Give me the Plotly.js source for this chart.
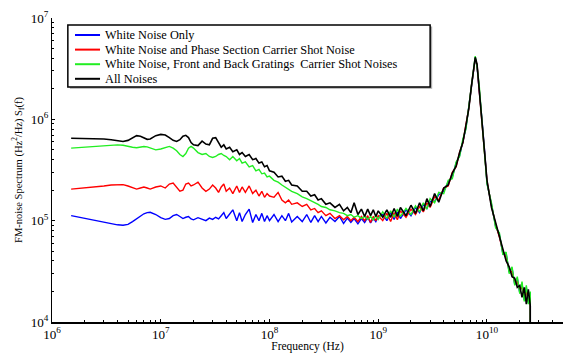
<!DOCTYPE html>
<html>
<head>
<meta charset="utf-8">
<script src="https://cdn.plot.ly/plotly-3.0.1.min.js"></script>
<style>html,body{margin:0;padding:0;background:#fff}#chart{width:571px;height:353px}</style>
</head>
<body>
<div id="chart"></div>
<script>
// Frequency grid (Hz), by region
const freqLow  = [1.5e6,2e6,2.5e6,3e6,3.5e6,4e6,4.5e6,5e6,5.5e6,6e6,6.5e6,7e6,7.5e6,8e6,9e6,1e7];
const freqMid  = [1.1e7,1.2e7,1.3e7,1.4e7,1.5e7,1.6e7,1.7e7,1.8e7,1.9e7,2e7,
                  2.2e7,2.4e7,2.6e7,2.8e7,3e7,3.2e7,3.4e7,3.6e7,3.8e7,4e7,
                  4.3e7,4.6e7,5e7,5.3e7,5.6e7,
                  6e7,6.5e7,7e7,7.5e7,8e7,8.5e7,9e7,9.5e7,1e8];
const freqHigh = [1.1e8,1.2e8,1.3e8,1.4e8,1.5e8,1.6e8,
                  1.8e8,2e8,2.2e8,2.4e8,2.6e8,2.8e8,3e8,
                  3.3e8,3.6e8,
                  4e8,4.4e8,4.8e8,5.2e8,5.6e8,
                  6e8,6.5e8,7e8,7.5e8,8e8,8.5e8,9e8,9.5e8,1e9];
const freqTail = [1.1e9,1.2e9,1.3e9,1.4e9,1.5e9,1.6e9,
                  1.8e9,2e9,2.2e9,2.4e9,2.6e9,2.8e9,3e9,
                  3.3e9,3.6e9,
                  4e9,4.4e9,4.8e9,5.2e9,5.6e9,
                  6e9,6.4e9,6.8e9,7.2e9,7.5e9,7.8e9,8.1e9,8.5e9,9e9,9.5e9,
                  1e10,1.1e10,1.2e10,1.3e10,1.4e10,1.5e10,1.6e10,1.7e10,1.8e10,1.9e10,2e10,2.1e10,2.2e10,2.3e10,2.4e10,2.5e10,
                  2.5e10];

// White Noise Only (blue)
const blueLow  = [1.12e5,1.05e5,1.0e5,9.6e4,9.3e4,9.1e4,9.0e4,9.2e4,9.8e4,1.05e5,1.12e5,1.17e5,1.2e5,1.21e5,1.15e5,1.07e5];
const blueMid  = [1.03e5,1.05e5,1.12e5,1.15e5,1.1e5,1.05e5,1.08e5,1.1e5,1.04e5,1.02e5,
                  1.07e5,1.03e5,1.0e5,1.06e5,1.03e5,1.08e5,1.04e5,1.12e5,1.2e5,1.05e5,
                  1.15e5,1.28e5,1.0e5,1.2e5,9.8e4,
                  1.15e5,1.3e5,9.6e4,1.15e5,1.0e5,1.18e5,9.8e4,1.12e5,1.0e5];
const blueHigh = [1.15e5,9.8e4,1.12e5,1.0e5,1.18e5,9.7e4,
                  1.1e5,9.8e4,1.15e5,9.6e4,1.12e5,9.8e4,1.1e5,
                  9.5e4,1.08e5,
                  9.8e4,1.1e5,9.4e4,1.06e5,9.6e4,
                  1.05e5,9.3e4,1.05e5,9.6e4,1.08e5,9.5e4,1.06e5,9.8e4,1.1e5];
const blueTail = [1.15e5,1.0e5,1.2e5,1.03e5,1.22e5,1.05e5,
                  1.28e5,1.12e5,1.35e5,1.2e5,1.45e5,1.32e5,1.55e5,
                  1.55e5,1.8e5,
                  1.95e5,2.4e5,2.7e5,3.7e5,4.4e5,
                  6.2e5,8.2e5,1.32e6,2.05e6,3.1e6,4.05e6,3.35e6,2.05e6,9.8e5,4.9e5,
                  2.35e5,1.45e5,8.8e4,7.3e4,4.7e4,4.7e4,3.1e4,3.4e4,2.35e4,2.7e4,1.95e4,2.4e4,1.65e4,2.2e4,1.55e4,1.95e4,
                  1e4];

// White Noise and Phase Section Carrier Shot Noise (red)
const redLow  = [2.05e5,2.1e5,2.15e5,2.2e5,2.25e5,2.27e5,2.27e5,2.2e5,2.1e5,2.05e5,2.1e5,2.15e5,2.1e5,2.05e5,2.15e5,2.2e5];
const redMid  = [2.1e5,2.3e5,2.35e5,2.15e5,1.95e5,2.0e5,2.3e5,2.35e5,2.2e5,2.25e5,
                 2.4e5,2.1e5,1.95e5,2.05e5,2.25e5,2.1e5,1.9e5,2.15e5,2.3e5,1.95e5,
                 2.1e5,1.85e5,2.2e5,1.9e5,2.15e5,
                 1.9e5,2.2e5,1.85e5,2.0e5,1.75e5,1.95e5,1.7e5,1.85e5,1.75e5];
const redHigh = [1.7e5,1.9e5,1.6e5,1.5e5,1.6e5,1.45e5,
                 1.5e5,1.38e5,1.45e5,1.28e5,1.32e5,1.2e5,1.25e5,
                 1.12e5,1.18e5,
                 1.05e5,1.12e5,1.02e5,1.1e5,1.0e5,
                 1.08e5,9.8e4,1.1e5,1.0e5,1.12e5,9.6e4,1.1e5,1.0e5,1.12e5];
const redTail = [1.0e5,1.18e5,9.8e4,1.2e5,1.02e5,1.25e5,
                 1.08e5,1.3e5,1.15e5,1.38e5,1.22e5,1.5e5,1.35e5,
                 1.72e5,1.6e5,
                 2.1e5,2.2e5,3.0e5,3.4e5,4.7e5,
                 5.9e5,8.6e5,1.28e6,2.15e6,3.0e6,4.0e6,3.45e6,1.95e6,1.02e6,4.7e5,
                 2.45e5,1.4e5,9.2e4,6.9e4,5.0e4,4.3e4,3.3e4,3.1e4,2.5e4,2.5e4,2.1e4,2.2e4,1.8e4,2.0e4,1.6e4,1.8e4,
                 1e4];

// White Noise, Front and Back Gratings Carrier Shot Noises (green)
const greenLow  = [5.2e5,5.3e5,5.4e5,5.5e5,5.55e5,5.6e5,5.55e5,5.4e5,5.3e5,5.25e5,5.3e5,5.4e5,5.35e5,5.2e5,5.0e5,5.1e5];
const greenMid  = [5.3e5,5.4e5,5.2e5,4.9e5,4.5e5,4.3e5,4.6e5,5.2e5,5.4e5,5.2e5,
                   4.7e5,4.5e5,4.6e5,4.3e5,4.2e5,4.3e5,4.5e5,4.6e5,4.4e5,4.3e5,
                   4.0e5,4.3e5,3.9e5,4.1e5,3.7e5,
                   3.8e5,3.4e5,3.5e5,3.1e5,3.2e5,2.9e5,2.95e5,2.7e5,2.75e5];
const greenHigh = [2.5e5,2.4e5,2.25e5,2.15e5,2.05e5,1.95e5,
                   1.85e5,1.72e5,1.65e5,1.58e5,1.5e5,1.45e5,1.38e5,
                   1.35e5,1.28e5,
                   1.25e5,1.2e5,1.18e5,1.12e5,1.15e5,
                   1.08e5,1.12e5,1.05e5,1.1e5,1.03e5,1.1e5,1.02e5,1.12e5,1.03e5];
const greenTail = [1.22e5,1.05e5,1.25e5,1.08e5,1.3e5,1.1e5,
                   1.32e5,1.15e5,1.4e5,1.22e5,1.5e5,1.3e5,1.65e5,
                   1.5e5,1.9e5,
                   1.85e5,2.5e5,2.6e5,3.8e5,4.3e5,
                   6.4e5,8.0e5,1.35e6,2.0e6,3.2e6,4.2e6,3.3e6,2.1e6,9.5e5,5.0e5,
                   2.3e5,1.5e5,8.5e4,7.6e4,4.6e4,4.9e4,3.0e4,3.5e4,2.3e4,2.8e4,1.9e4,2.5e4,1.6e4,2.3e4,1.5e4,2.0e4,
                   1e4];

// All Noises (black)
const blackLow  = [6.5e5,6.5e5,6.45e5,6.4e5,6.3e5,6.15e5,6.05e5,6.2e5,6.6e5,6.9e5,6.8e5,6.5e5,6.35e5,6.4e5,6.9e5,7.1e5];
const blackMid  = [7.0e5,6.6e5,6.2e5,6.05e5,6.3e5,6.8e5,6.95e5,6.6e5,5.9e5,5.6e5,
                   5.5e5,6.1e5,5.7e5,5.6e5,6.5e5,6.6e5,5.8e5,5.3e5,5.6e5,5.1e5,
                   5.3e5,4.8e5,5.0e5,4.5e5,4.7e5,
                   4.3e5,4.5e5,4.0e5,4.1e5,3.7e5,3.8e5,3.4e5,3.5e5,3.1e5];
const blackHigh = [3.0e5,2.7e5,2.75e5,2.45e5,2.5e5,2.25e5,
                   2.2e5,1.95e5,1.95e5,1.75e5,1.8e5,1.6e5,1.65e5,
                   1.45e5,1.5e5,
                   1.35e5,1.45e5,1.25e5,1.35e5,1.2e5,
                   1.5e5,1.15e5,1.3e5,1.1e5,1.3e5,1.12e5,1.28e5,1.1e5,1.25e5];
const blackTail = [1.08e5,1.28e5,1.08e5,1.32e5,1.1e5,1.35e5,
                   1.12e5,1.42e5,1.18e5,1.5e5,1.25e5,1.65e5,1.38e5,
                   1.85e5,1.52e5,
                   2.1e5,2.25e5,2.95e5,3.45e5,4.7e5,
                   5.9e5,8.7e5,1.27e6,2.15e6,3.0e6,4.1e6,3.5e6,1.95e6,1.05e6,4.6e5,
                   2.5e5,1.35e5,9.6e4,6.6e4,5.2e4,4.0e4,3.5e4,2.8e4,2.7e4,2.2e4,2.3e4,1.75e4,2.2e4,1.5e4,2.1e4,1.45e4,
                   1e4];

const seriesNames = [
  "White Noise Only",
  "White Noise and Phase Section Carrier Shot Noise",
  "White Noise, Front and Back Gratings  Carrier Shot Noises",
  "All Noises"
];

const freq = freqLow.concat(freqMid, freqHigh, freqTail);
const seriesValues = [
  blueLow.concat(blueMid, blueHigh, blueTail),
  redLow.concat(redMid, redHigh, redTail),
  greenLow.concat(greenMid, greenHigh, greenTail),
  blackLow.concat(blackMid, blackHigh, blackTail)
];
const colors = ["#0000ff", "#ff0000", "#22ee22", "#000000"];
const widths = [1.4, 1.4, 1.4, 1.6];

const traces = seriesValues.map((v, i) => ({
  x: freq, y: v, type: "scatter", mode: "lines", name: seriesNames[i],
  line: {color: colors[i], width: widths[i]}, showlegend: false
}));

const serif = "Liberation Serif, Times New Roman, serif";

// Hand-placed legend (rows tighter than Plotly's built-in legend allows)
const legendRowsY = [0.944, 0.896, 0.848, 0.800];
const legendShapes = [
  {type: "rect", xref: "paper", yref: "paper", x0: 0.035, x1: 0.744, y0: 0.767, y1: 0.972,
   line: {width: 0}, fillcolor: "#aaa", layer: "below"},
  {type: "rect", xref: "paper", yref: "paper", x0: 0.031, x1: 0.740, y0: 0.773, y1: 0.977,
   line: {color: "#000", width: 1.5}, fillcolor: "#fff", layer: "below"}
];
const legendAnnotations = [];
seriesNames.forEach((name, i) => {
  legendShapes.push({type: "line", xref: "paper", yref: "paper",
    x0: 0.045, x1: 0.094, y0: legendRowsY[i], y1: legendRowsY[i],
    line: {color: colors[i], width: 2}});
  legendAnnotations.push({xref: "paper", yref: "paper", x: 0.099, y: legendRowsY[i],
    xanchor: "left", yanchor: "middle", showarrow: false, text: name,
    font: {family: serif, size: 12.3, color: "#000"}});
});

const layout = {
  width: 571, height: 353,
  margin: {l: 52, r: 8, t: 18, b: 31},
  paper_bgcolor: "#fff", plot_bgcolor: "#fff",
  showlegend: false,
  shapes: legendShapes,
  annotations: legendAnnotations,
  xaxis: {
    type: "log", range: [6, Math.log10(5e10)],
    showline: true, linecolor: "#000", linewidth: 1.5, mirror: false,
    showgrid: false, zeroline: false,
    ticks: "inside", ticklen: 3, tickcolor: "#000", tickwidth: 1,
    dtick: 1, exponentformat: "power",
    minor: {ticks: "inside", ticklen: 2, tickcolor: "#000", dtick: "D1", showgrid: false},
    tickfont: {family: serif, size: 10.5, color: "#000"},
    title: {text: "Frequency (Hz)", font: {family: serif, size: 11.5, color: "#000"}, standoff: 1}
  },
  yaxis: {
    type: "log", range: [4, 7],
    showline: true, linecolor: "#000", linewidth: 1.5, mirror: false,
    showgrid: false, zeroline: false,
    ticks: "inside", ticklen: 3, tickcolor: "#000", tickwidth: 1,
    dtick: 1, exponentformat: "power",
    minor: {ticks: "inside", ticklen: 2, tickcolor: "#000", dtick: "D1", showgrid: false},
    tickfont: {family: serif, size: 10.5, color: "#000"},
    title: {text: "FM-noise Spectrum (Hz<sup>2</sup>/Hz) S<sub>f</sub>(f)", font: {family: serif, size: 10.5, color: "#000"}, standoff: 6}
  }
};

Plotly.newPlot("chart", traces, layout, {displayModeBar: false, staticPlot: true});
</script>
</body>
</html>
